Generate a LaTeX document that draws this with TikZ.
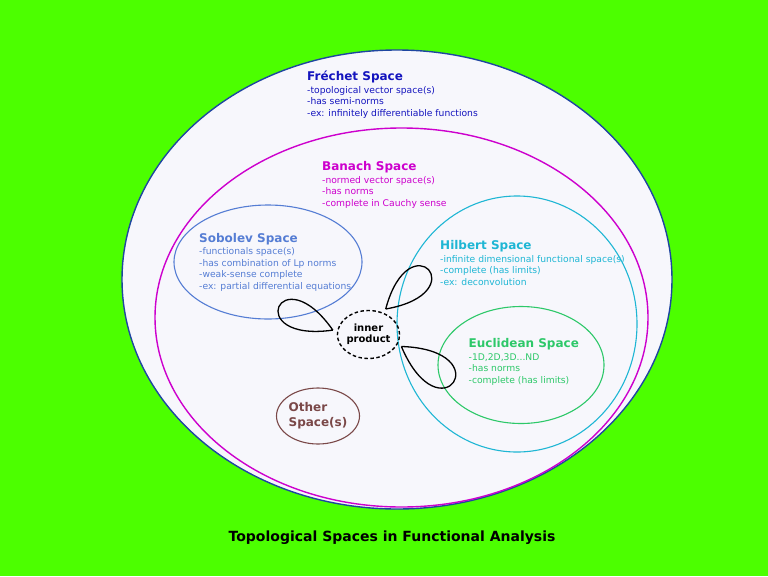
\documentclass[tikz,border=0pt]{standalone}
\usepackage{fontspec}
\setmainfont{DejaVu Sans}
\usepackage{tikz}
\usetikzlibrary{shapes.geometric}
\usetikzlibrary{positioning}

\definecolor{bggreen}{RGB}{76,255,0}
\definecolor{frechetfill}{RGB}{247,247,252}
\definecolor{frechetline}{RGB}{30,70,160}
\definecolor{frechettext}{RGB}{20,20,190}
\definecolor{banachcol}{RGB}{205,0,205}
\definecolor{sobolevcol}{RGB}{85,125,212}
\definecolor{hilbertcol}{RGB}{30,182,212}
\definecolor{euclidcol}{RGB}{45,200,105}
\definecolor{othercol}{RGB}{122,72,72}

\newcommand{\spacetitle}{\fontsize{12}{12}\bfseries\selectfont}

\begin{document}
\begin{tikzpicture}[x=1pt,y=-1pt,
                    space node/.style={ellipse,draw,inner sep=0pt,line width=1.1pt},
                    info node/.style={anchor=base west,align=left,inner sep=0pt,
                                      font=\fontsize{9.2}{11.4}\selectfont},
                    loop line/.style={draw,black,line width=1.3pt}]

\useasboundingbox (0,0) rectangle (768,576);
\fill[bggreen] (0,0) rectangle (768,576);

\node[space node] (frechet) at (397,279.5) [draw=frechetline, fill=frechetfill, line width=1.4pt, minimum width=550pt, minimum height=459pt] {};
\node[space node] (banach) at (401.5,317.5) [draw=banachcol, line width=1.4pt, minimum width=493pt, minimum height=379pt] {};
\node[space node] (sobolev) at (268,262) [draw=sobolevcol, minimum width=188pt, minimum height=114pt] {};
\node[space node] (hilbert) at (517,324) [draw=hilbertcol, minimum width=240pt, minimum height=256pt] {};
\node[space node] (euclid) at (521,365) [draw=euclidcol, minimum width=166pt, minimum height=117pt] {};
\node[space node] (other) at (318,416) [draw=othercol, text=othercol, align=left, minimum width=78pt, minimum height=56pt, font=\fontsize{12}{15}\bfseries\selectfont] {Other\\Space(s)};
\node[space node] (inner) at (368.5,334.5) [draw=black, line width=1.4pt, dash pattern=on 3.5pt off 2.5pt, align=center, outer sep=5pt, minimum width=60pt, minimum height=48pt, font=\fontsize{10}{11}\bfseries\selectfont] {inner\\product};

\node[info node, text=frechettext] (frechetInfo) at (307,116) {{\spacetitle Fréchet Space}\\[1pt]-topological vector space(s)\\-has semi-norms\\-ex: infinitely differentiable functions};
\node[info node, text=banachcol] (banachInfo) at (322,206) {{\spacetitle Banach Space}\\[1pt]-normed vector space(s)\\-has norms\\-complete in Cauchy sense};
\node[info node, text=sobolevcol] (sobolevInfo) at (199,289) {{\spacetitle Sobolev Space}\\[1pt]-functionals space(s)\\-has combination of Lp norms\\-weak-sense complete\\-ex: partial differential equations};
\node[info node, text=hilbertcol] (hilbertInfo) at (440,285) {{\spacetitle Hilbert Space}\\[1pt]-infinite dimensional functional space(s)\\-complete (has limits)\\-ex: deconvolution};
\node[info node, text=euclidcol] (euclidInfo) at (468.5,383) {{\spacetitle Euclidean Space}\\[1pt]-1D,2D,3D...ND\\-has norms\\-complete (has limits)};

\node[anchor=base, inner sep=0pt, font=\fontsize{14}{16}\bfseries\selectfont] (caption) at (392,541) {Topological Spaces in Functional Analysis};

\path[loop line]
    (inner.173) edge [out=125, in=188, min distance=92pt] (inner.173)
    (inner.56) edge [out=75, in=10, min distance=92pt] (inner.56)
    (inner.-20) edge [out=-2, in=-67, min distance=100pt] (inner.-20)
    ;
\end{tikzpicture}
\end{document}
